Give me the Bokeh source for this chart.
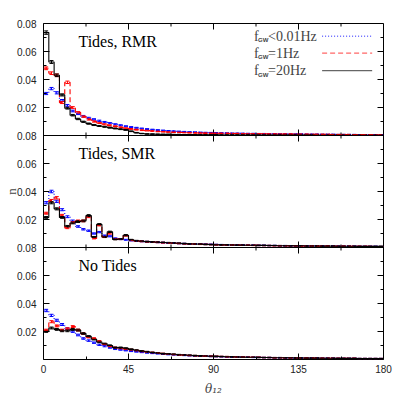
import numpy as np
from bokeh.plotting import figure
from bokeh.models import Range1d, LinearAxis, FixedTicker, Whisker, TeeHead, ColumnDataSource, Label
from bokeh.embed import file_html
from bokeh.resources import INLINE

# ---------------- data ----------------
n_bins = 64
theta_max = 180.0

rmr_20 = [0.0735, 0.0525, 0.0430, 0.0290, 0.0195, 0.0145, 0.0118, 0.0098, 0.0085, 0.0075, 0.0068, 0.0062, 0.0056, 0.0050, 0.0045, 0.0040,
          0.0030, 0.0020, 0.0014, 0.0011, 0.0010, 0.0009, 0.0008, 0.0008, 0.0007, 0.0007, 0.0006, 0.0006, 0.0006, 0.0005, 0.0005, 0.0005,
          0.0005, 0.0004, 0.0004, 0.0004, 0.0004, 0.0004, 0.0004, 0.0003, 0.0003, 0.0003, 0.0003, 0.0003, 0.0003, 0.0003, 0.0003, 0.0003,
          0.0003, 0.0003, 0.0003, 0.0002, 0.0002, 0.0002, 0.0002, 0.0002, 0.0002, 0.0002, 0.0002, 0.0002, 0.0002, 0.0002, 0.0002, 0.0002]
rmr_1 = [0.0480, 0.0445, 0.0430, 0.0235, 0.0380, 0.0200, 0.0165, 0.0135, 0.0115, 0.0100, 0.0090, 0.0080, 0.0072, 0.0065, 0.0058, 0.0052,
         0.0047, 0.0042, 0.0038, 0.0035, 0.0032, 0.0029, 0.0027, 0.0025, 0.0023, 0.0022, 0.0021, 0.0020, 0.0019, 0.0018, 0.0017, 0.0016,
         0.0016, 0.0015, 0.0015, 0.0014, 0.0014, 0.0013, 0.0013, 0.0012, 0.0012, 0.0012, 0.0011, 0.0011, 0.0010, 0.0010, 0.0010, 0.0009,
         0.0009, 0.0009, 0.0008, 0.0008, 0.0008, 0.0008, 0.0007, 0.0007, 0.0007, 0.0007, 0.0006, 0.0006, 0.0006, 0.0006, 0.0005, 0.0005]
rmr_001 = [0.0300, 0.0335, 0.0305, 0.0250, 0.0215, 0.0175, 0.0155, 0.0138, 0.0125, 0.0115, 0.0105, 0.0096, 0.0088, 0.0080, 0.0073, 0.0066,
           0.0060, 0.0055, 0.0050, 0.0046, 0.0042, 0.0039, 0.0036, 0.0033, 0.0031, 0.0029, 0.0027, 0.0025, 0.0024, 0.0022, 0.0021, 0.0020,
           0.0019, 0.0018, 0.0017, 0.0016, 0.0016, 0.0015, 0.0014, 0.0014, 0.0013, 0.0013, 0.0012, 0.0012, 0.0011, 0.0011, 0.0010, 0.0010,
           0.0010, 0.0009, 0.0009, 0.0009, 0.0008, 0.0008, 0.0008, 0.0007, 0.0007, 0.0007, 0.0007, 0.0006, 0.0006, 0.0006, 0.0006, 0.0005]

smr_20 = [0.0215, 0.0320, 0.0276, 0.0215, 0.0152, 0.0175, 0.0185, 0.0190, 0.0228, 0.0075, 0.0165, 0.0075, 0.0112, 0.0058, 0.0060, 0.0088,
          0.0055, 0.0048, 0.0045, 0.0042, 0.0040, 0.0038, 0.0036, 0.0034, 0.0032, 0.0030, 0.0028, 0.0026, 0.0025, 0.0024, 0.0022, 0.0021,
          0.0020, 0.0019, 0.0019, 0.0018, 0.0017, 0.0017, 0.0016, 0.0016, 0.0015, 0.0015, 0.0014, 0.0014, 0.0013, 0.0013, 0.0012, 0.0012,
          0.0012, 0.0011, 0.0011, 0.0011, 0.0010, 0.0010, 0.0010, 0.0009, 0.0009, 0.0009, 0.0009, 0.0008, 0.0008, 0.0008, 0.0008, 0.0008]
smr_1 = [0.0245, 0.0335, 0.0355, 0.0230, 0.0140, 0.0180, 0.0190, 0.0190, 0.0220, 0.0065, 0.0160, 0.0075, 0.0100, 0.0060, 0.0060, 0.0085,
         0.0052, 0.0047, 0.0044, 0.0041, 0.0039, 0.0037, 0.0035, 0.0033, 0.0031, 0.0029, 0.0027, 0.0026, 0.0025, 0.0023, 0.0022, 0.0021,
         0.0020, 0.0019, 0.0018, 0.0018, 0.0017, 0.0016, 0.0016, 0.0015, 0.0015, 0.0014, 0.0014, 0.0013, 0.0013, 0.0012, 0.0012, 0.0012,
         0.0011, 0.0011, 0.0011, 0.0010, 0.0010, 0.0010, 0.0009, 0.0009, 0.0009, 0.0009, 0.0008, 0.0008, 0.0008, 0.0008, 0.0007, 0.0007]
smr_001 = [0.0320, 0.0400, 0.0330, 0.0270, 0.0220, 0.0190, 0.0150, 0.0130, 0.0120, 0.0100, 0.0110, 0.0085, 0.0080, 0.0065, 0.0060, 0.0055,
           0.0050, 0.0047, 0.0044, 0.0041, 0.0039, 0.0037, 0.0035, 0.0033, 0.0031, 0.0029, 0.0028, 0.0026, 0.0025, 0.0024, 0.0023, 0.0022,
           0.0021, 0.0020, 0.0019, 0.0018, 0.0018, 0.0017, 0.0016, 0.0016, 0.0015, 0.0015, 0.0014, 0.0014, 0.0013, 0.0013, 0.0012, 0.0012,
           0.0012, 0.0011, 0.0011, 0.0011, 0.0010, 0.0010, 0.0010, 0.0009, 0.0009, 0.0009, 0.0009, 0.0008, 0.0008, 0.0008, 0.0008, 0.0007]

not_20 = [0.0200, 0.0225, 0.0215, 0.0205, 0.0205, 0.0215, 0.0210, 0.0185, 0.0165, 0.0145, 0.0125, 0.0112, 0.0100, 0.0085, 0.0085, 0.0080,
          0.0072, 0.0066, 0.0060, 0.0055, 0.0050, 0.0046, 0.0042, 0.0040, 0.0037, 0.0034, 0.0032, 0.0030, 0.0028, 0.0026, 0.0025, 0.0023,
          0.0022, 0.0021, 0.0020, 0.0019, 0.0018, 0.0017, 0.0016, 0.0016, 0.0015, 0.0014, 0.0014, 0.0013, 0.0013, 0.0012, 0.0012, 0.0011,
          0.0011, 0.0010, 0.0010, 0.0010, 0.0009, 0.0009, 0.0009, 0.0008, 0.0008, 0.0008, 0.0008, 0.0007, 0.0007, 0.0007, 0.0007, 0.0007]
not_1 = [0.0210, 0.0270, 0.0240, 0.0210, 0.0220, 0.0235, 0.0210, 0.0185, 0.0160, 0.0150, 0.0130, 0.0110, 0.0095, 0.0085, 0.0080, 0.0075,
         0.0070, 0.0064, 0.0058, 0.0054, 0.0050, 0.0046, 0.0042, 0.0039, 0.0036, 0.0033, 0.0031, 0.0029, 0.0027, 0.0026, 0.0024, 0.0023,
         0.0022, 0.0021, 0.0020, 0.0019, 0.0018, 0.0017, 0.0016, 0.0016, 0.0015, 0.0014, 0.0014, 0.0013, 0.0013, 0.0012, 0.0012, 0.0011,
         0.0011, 0.0010, 0.0010, 0.0010, 0.0009, 0.0009, 0.0009, 0.0008, 0.0008, 0.0008, 0.0008, 0.0007, 0.0007, 0.0007, 0.0007, 0.0007]
not_001 = [0.0350, 0.0315, 0.0280, 0.0250, 0.0220, 0.0200, 0.0175, 0.0150, 0.0135, 0.0120, 0.0105, 0.0095, 0.0085, 0.0075, 0.0070, 0.0065,
           0.0060, 0.0056, 0.0052, 0.0048, 0.0045, 0.0042, 0.0039, 0.0036, 0.0034, 0.0032, 0.0030, 0.0028, 0.0026, 0.0025, 0.0024, 0.0022,
           0.0021, 0.0020, 0.0019, 0.0018, 0.0018, 0.0017, 0.0016, 0.0015, 0.0015, 0.0014, 0.0014, 0.0013, 0.0013, 0.0012, 0.0012, 0.0011,
           0.0011, 0.0010, 0.0010, 0.0010, 0.0009, 0.0009, 0.0009, 0.0008, 0.0008, 0.0008, 0.0008, 0.0007, 0.0007, 0.0007, 0.0007, 0.0007]

panel_titles = ["Tides, RMR", "Tides, SMR", "No Tides"]
series_labels = ["<0.01Hz", "=1Hz", "=20Hz"]
x_ticks = [0, 45, 90, 135, 180]
x_minor = [22.5, 67.5, 112.5, 157.5]
n_samples = 50000  # for Poisson error bars

# ---------------- figure ----------------
p = figure(width=395, height=400, output_backend="svg", toolbar_location=None,
           x_range=Range1d(0, theta_max), y_range=Range1d(0, 0.24),
           min_border_left=43, min_border_right=12, min_border_top=23, min_border_bottom=41)
p.outline_line_color = "black"
p.outline_line_width = 1
p.xgrid.visible = False
p.ygrid.visible = False
p.background_fill_color = "white"
p.border_fill_color = "white"

# extra ranges: each panel maps 0..0.08 into its third of the frame
p.extra_y_ranges = {"top": Range1d(-0.16, 0.08), "mid": Range1d(-0.08, 0.16)}
panel_ranges = ["top", "mid", "default"]

ytick_vals = [round(0.02 * k, 4) for k in range(1, 13)]
yminor = [round(0.01 + 0.02 * k, 4) for k in range(12)]
labels = {}
for v in ytick_vals:
    r = round(v % 0.08, 4)
    labels[v] = "%.2f" % (0.08 if r < 1e-9 or abs(r - 0.08) < 1e-9 else r)

font_sans = "Liberation Sans"
font_serif = "Liberation Serif"

p.xaxis.visible = False
p.yaxis.visible = False


def style_axis(ax):
    ax.axis_line_color = None
    ax.major_tick_in = 6
    ax.major_tick_out = 0
    ax.minor_tick_in = 3
    ax.minor_tick_out = 0
    ax.major_tick_line_color = "black"
    ax.minor_tick_line_color = "black"
    ax.major_label_text_font = font_sans
    ax.major_label_text_font_size = "10px"
    ax.major_label_text_color = "#222222"


left = LinearAxis(ticker=FixedTicker(ticks=ytick_vals, minor_ticks=yminor))
left.major_label_overrides = labels
style_axis(left)
left.major_label_standoff = 7
left.axis_label = "n"
left.axis_label_text_font = font_serif
left.axis_label_text_font_style = "normal"
left.axis_label_text_font_size = "13px"
left.axis_label_standoff = -5
p.add_layout(left, "left")

bottom = LinearAxis(ticker=FixedTicker(ticks=x_ticks, minor_ticks=x_minor))
style_axis(bottom)
bottom.major_label_standoff = 5
bottom.axis_label = "θ₁₂"
bottom.axis_label_text_font = "DejaVu Serif"
bottom.axis_label_text_font_style = "italic"
bottom.axis_label_text_font_size = "12px"
bottom.axis_label_standoff = 6
p.add_layout(bottom, "below")

# inward ticks on the top, right edges and along the panel separators (clipped to the frame)
for yline in [0.08, 0.16, 0.24]:
    if yline < 0.2:
        p.line(x=[0, theta_max], y=[yline, yline], line_color="black", line_width=1)
    p.scatter(x=x_ticks[1:-1], y=[yline] * 3, marker="dash", angle=np.pi / 2, size=12,
              line_color="black", line_width=1)
    p.scatter(x=x_minor, y=[yline] * 4, marker="dash", angle=np.pi / 2, size=6,
              line_color="black", line_width=1)
p.scatter(x=[theta_max] * len(ytick_vals), y=ytick_vals, marker="dash", size=12,
          line_color="black", line_width=1)
p.scatter(x=[theta_max] * len(yminor), y=yminor, marker="dash", size=6,
          line_color="black", line_width=1)

# histograms
edges = np.linspace(0, theta_max, n_bins + 1)
centers = 0.5 * (edges[:-1] + edges[1:])
styles = [("blue", "1 2"), ("red", "5 3"), ("black", "solid")]
panels = [[rmr_001, rmr_1, rmr_20], [smr_001, smr_1, smr_20], [not_001, not_1, not_20]]
for rng, series in zip(panel_ranges, panels):
    for vals, (col, dash) in zip(series, styles):
        v = np.array(vals)
        ys = np.append(v, v[-1])
        p.step(x=edges, y=ys, mode="after", line_color=col, line_dash=dash, line_width=1.1,
               y_range_name=rng)
        err = np.sqrt(v / n_samples)
        src = ColumnDataSource(dict(x=centers, lo=v - err, hi=v + err))
        w = Whisker(base="x", lower="lo", upper="hi", source=src, y_range_name=rng,
                    line_color=col, line_width=1,
                    upper_head=TeeHead(size=4, line_color=col, line_width=1),
                    lower_head=TeeHead(size=4, line_color=col, line_width=1))
        p.add_layout(w)

# panel titles
for rng, title in zip(panel_ranges, panel_titles):
    p.add_layout(Label(x=18.5, y=0.08, y_offset=-18, text=title, y_range_name=rng,
                       text_font=font_serif, text_font_size="16px", text_baseline="middle",
                       text_align="left", text_color="black"))

# legend (top panel)
leg_y = [0.0709, 0.0588, 0.0464]
for lab, yy, (col, dash) in zip(series_labels, leg_y, styles):
    p.add_layout(Label(x=111.5, y=yy, text="f", y_range_name="top", text_font=font_serif,
                       text_font_size="14px", text_baseline="middle", text_align="left"))
    p.add_layout(Label(x=111.5, y=yy, x_offset=4, y_offset=-4, text="GW", y_range_name="top",
                       text_font=font_sans, text_font_size="6px", text_font_style="bold",
                       text_baseline="middle", text_align="left"))
    p.add_layout(Label(x=111.5, y=yy, x_offset=14, text=lab, y_range_name="top", text_font=font_serif,
                       text_font_size="14px", text_baseline="middle", text_align="left"))
    p.line(x=[147.5, 174.0], y=[yy, yy], line_color=col, line_dash=dash, line_width=1.3, alpha=0.6,
           y_range_name="top")

open("out.html", "w").write(file_html(p, INLINE))
